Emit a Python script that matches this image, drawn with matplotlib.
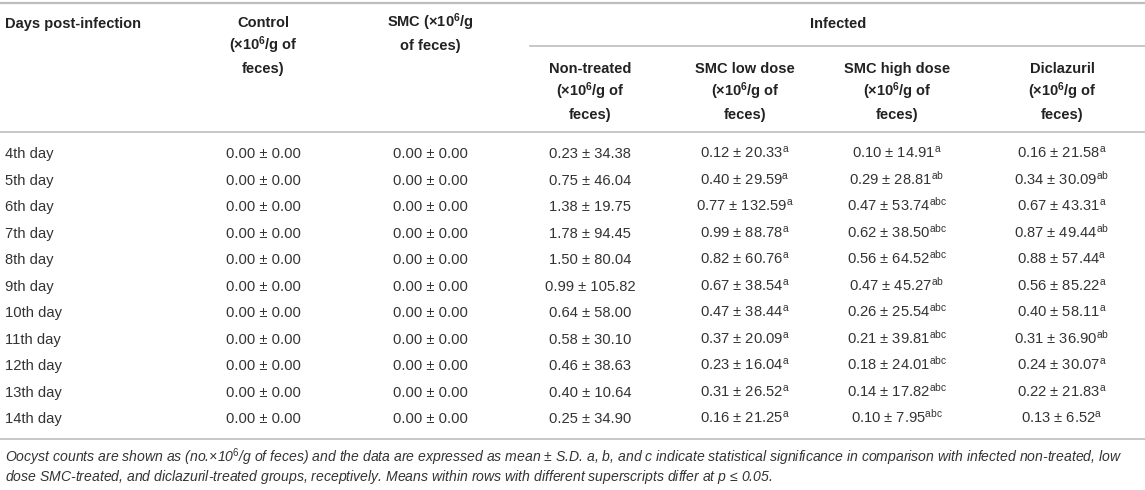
import matplotlib
matplotlib.use("Agg")
import matplotlib.pyplot as plt

plt.rcParams['font.family'] = ['Liberation Sans', 'DejaVu Sans']
plt.rcParams['mathtext.fontset'] = 'custom'
plt.rcParams['mathtext.rm'] = 'Liberation Sans'
plt.rcParams['mathtext.it'] = 'Liberation Sans:italic'
plt.rcParams['mathtext.bf'] = 'Liberation Sans:bold'

days = ["4th day", "5th day", "6th day", "7th day", "8th day", "9th day",
        "10th day", "11th day", "12th day", "13th day", "14th day"]
control_mean = [0.0] * 11
control_sd = [0.0] * 11
smc_mean = [0.0] * 11
smc_sd = [0.0] * 11
nt_mean = [0.23, 0.75, 1.38, 1.78, 1.50, 0.99, 0.64, 0.58, 0.46, 0.40, 0.25]
nt_sd = [34.38, 46.04, 19.75, 94.45, 80.04, 105.82, 58.00, 30.10, 38.63, 10.64, 34.90]
low_mean = [0.12, 0.40, 0.77, 0.99, 0.82, 0.67, 0.47, 0.37, 0.23, 0.31, 0.16]
low_sd = [20.33, 29.59, 132.59, 88.78, 60.76, 38.54, 38.44, 20.09, 16.04, 26.52, 21.25]
low_sup = ["a"] * 11
high_mean = [0.10, 0.29, 0.47, 0.62, 0.56, 0.47, 0.26, 0.21, 0.18, 0.14, 0.10]
high_sd = [14.91, 28.81, 53.74, 38.50, 64.52, 45.27, 25.54, 39.81, 24.01, 17.82, 7.95]
high_sup = ["a", "ab", "abc", "abc", "abc", "ab", "abc", "abc", "abc", "abc", "abc"]
dic_mean = [0.16, 0.34, 0.67, 0.87, 0.88, 0.56, 0.40, 0.31, 0.24, 0.22, 0.13]
dic_sd = [21.58, 30.09, 43.31, 49.44, 57.44, 85.22, 58.11, 36.90, 30.07, 21.83, 6.52]
dic_sup = ["a", "ab", "a", "ab", "a", "a", "a", "ab", "a", "a", "a"]

unit = "(\u00d710$^{\\mathbf{6}}$/g of"
headers = [
    ("Control", [("Control", 22), (unit, 45), ("feces)", 68)], 263),
    ("SMC", [("SMC (\u00d710$^{\\mathbf{6}}$/g", 22), ("of feces)", 45)], 430),
    ("nt", [("Non-treated", 68), (unit, 91), ("feces)", 114)], 590),
    ("low", [("SMC low dose", 68), (unit, 91), ("feces)", 114)], 745),
    ("high", [("SMC high dose", 68), (unit, 91), ("feces)", 114)], 897),
    ("dic", [("Diclazuril", 68), (unit, 91), ("feces)", 114)], 1062),
]

W, H = 1145, 490
fig = plt.figure(figsize=(W / 100, H / 100), dpi=100)
ax = fig.add_axes([0, 0, 1, 1])
ax.set_xlim(0, W)
ax.set_ylim(H, 0)
ax.axis('off')

line_col = '#bdbdbd'
ax.plot([0, W], [3.5, 3.5], color=line_col, lw=1.6)
ax.plot([530, W], [46, 46], color=line_col, lw=1.2)
ax.plot([0, W], [132, 132], color=line_col, lw=1.2)
ax.plot([0, W], [439, 439], color=line_col, lw=1.2)

# baseline offset so lines with superscripts don't shift
hfs = 10.5
hb = 5
ax.text(5, 23 + hb, "Days post-infection", fontsize=hfs, fontweight='bold',
        ha='left', va='baseline', color='#222222')
ax.text(838, 23 + hb, "Infected", fontsize=hfs, fontweight='bold',
        ha='center', va='baseline', color='#222222')
for key, lines, cx in headers:
    for txt, y in lines:
        ax.text(cx, y + hb, txt, fontsize=hfs, fontweight='bold',
                ha='center', va='baseline', color='#222222')

dfs = 10.6
db = 5
row0, step = 153, 26.5
cols = [
    (control_mean, control_sd, None, 263),
    (smc_mean, smc_sd, None, 430),
    (nt_mean, nt_sd, None, 590),
    (low_mean, low_sd, low_sup, 745),
    (high_mean, high_sd, high_sup, 897),
    (dic_mean, dic_sd, dic_sup, 1062),
]
for i, d in enumerate(days):
    y = row0 + i * step + db
    ax.text(5, y, d, fontsize=dfs, ha='left', va='baseline', color='#333333')
    for m, s, sup, cx in cols:
        t = "%.2f \u00b1 %.2f" % (m[i], s[i])
        if sup is not None:
            t += "$^{\\mathrm{%s}}$" % sup[i]
        ax.text(cx, y, t, fontsize=dfs, ha='center', va='baseline', color='#333333')

foot1 = ("Oocyst counts are shown as (no.\u00d710$^{\\mathit{6}}$/g of feces) and the data are expressed as mean \u00b1 S.D. "
         "a, b, and c indicate statistical significance in comparison with infected non-treated, low")
foot2 = ("dose SMC-treated, and diclazuril-treated groups, receptively. Means within rows with different "
         "superscripts differ at $\\mathit{p}$ \u2264 0.05.")
ax.text(5, 457 + 4.5, foot1, fontsize=10.1, style='italic', ha='left', va='baseline', color='#333333')
ax.text(5, 476 + 4.5, foot2, fontsize=10.1, style='italic', ha='left', va='baseline', color='#333333')

fig.savefig("out.png", dpi=100)
